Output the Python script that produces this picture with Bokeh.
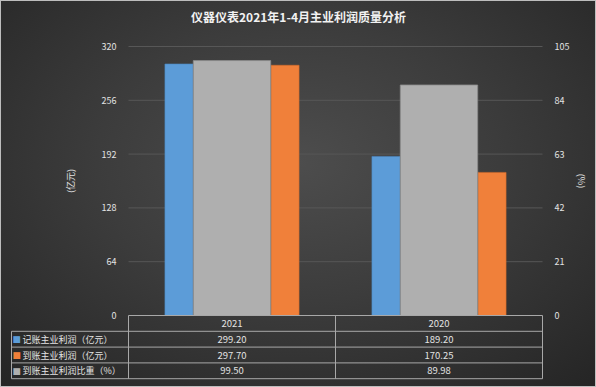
import numpy as np
from bokeh.plotting import figure
from bokeh.models import Range1d, LinearAxis, FixedTicker
from bokeh.embed import file_html
from bokeh.resources import INLINE
from bokeh.core.properties import value

# ---------------- data ----------------
title_text = "仪器仪表2021年1-4月主业利润质量分析"
years = ["2021", "2020"]
booked_profit = [299.20, 189.20]      # 记账主业利润（亿元）
received_profit = [297.70, 170.25]    # 到账主业利润（亿元）
received_ratio = [99.50, 89.98]       # 到账主业利润比重（%）
series_names = ["记账主业利润（亿元）", "到账主业利润（亿元）", "到账主业利润比重（%）"]
left_ticks = [0, 64, 128, 192, 256, 320]
right_ticks = [0, 21, 42, 63, 84, 105]
left_label = "(亿元)"
right_label = "(%)"

# ---------------- layout (pixels) ----------------
W, H = 596, 387
PL, PR, PT, PB = 128, 542, 46, 315     # plot area
ROW = 15.8                              # table row height
LEG_L = 11                              # table legend column left edge
n = len(years)
cat_px = (PR - PL) / n
upp = left_ticks[-1] / (PB - PT)        # left-axis units per pixel
upp2 = right_ticks[-1] / (PB - PT)      # right-axis units per pixel


def dx(px):
    return (px - PL) / cat_px


def dy(px):
    return (PB - px) * upp


CJK = "Noto Sans CJK SC"
BLUE, ORANGE, GRAY = "#5c9cd8", "#f0803a", "#afafaf"
TXT = "#e3e3e3"
LINE = "#a8a8a8"

p = figure(width=W, height=H, title=None,
           x_range=Range1d(dx(0), dx(W)), y_range=Range1d(dy(H), dy(0)),
           output_backend="svg", toolbar_location=None,
           min_border=0, x_axis_location=None)
p.extra_y_ranges = {"pct": Range1d((PB - H) * upp2, PB * upp2)}
p.background_fill_alpha = 0
p.border_fill_alpha = 0
p.outline_line_color = None
p.grid.visible = False
p.styles = {
    "background": "radial-gradient(ellipse 75% 80% at 50% 42%, #4d4d4d 0%, #3c3c3c 45%, #242424 100%)",
    "box-shadow": "inset 0 0 0 1px #bdbdbd",
}

# title
p.text(x=[dx(W / 2)], y=[dy(16)], text=[title_text], text_align="center",
       text_baseline="middle", text_font=value(CJK), text_font_size="12px",
       text_font_style="bold", text_color="#f2f2f2")

# grid lines
gy = left_ticks[1:]
p.segment(x0=[0] * len(gy), y0=gy, x1=[n] * len(gy), y1=gy,
          line_color="#575757", line_width=1)


def style_axis(a, standoff, label, label_standoff):
    a.axis_line_color = None
    a.major_tick_line_color = None
    a.minor_tick_line_color = None
    a.major_label_text_color = TXT
    a.major_label_text_font_size = "9px"
    a.major_label_text_font = CJK
    a.major_label_standoff = standoff
    a.axis_label = label
    a.axis_label_text_color = TXT
    a.axis_label_text_font_size = "9px"
    a.axis_label_text_font = CJK
    a.axis_label_text_font_style = "normal"
    a.axis_label_standoff = label_standoff


ax = p.yaxis[0]
ax.ticker = FixedTicker(ticks=left_ticks)
ax.fixed_location = 0
ax.bounds = (left_ticks[0], left_ticks[-1])
style_axis(ax, 6, left_label, 22)

ax2 = LinearAxis(y_range_name="pct", ticker=FixedTicker(ticks=right_ticks),
                 fixed_location=n, bounds=(right_ticks[0], right_ticks[-1]))
style_axis(ax2, 6, right_label, 3)
p.add_layout(ax2, "right")

# bars
cx = np.arange(n) + 0.5
off, bw, gw = 0.256, 0.136, 0.374
p.vbar(x=cx - off, top=booked_profit, bottom=0, width=bw,
       fill_color=BLUE, line_color="#4a86c0", line_width=0.6)
p.vbar(x=cx + off, top=received_profit, bottom=0, width=bw,
       fill_color=ORANGE, line_color="#d46a28", line_width=0.6)
p.vbar(x=cx, top=received_ratio, bottom=0, width=gw, y_range_name="pct",
       fill_color=GRAY, line_color="#8a8a8a", line_width=0.8)

# ---------------- data table ----------------
rh = ROW * upp
nrows = 4
leg_left = dx(LEG_L)
hx0 = [0] + [leg_left] * nrows
hy = [0] + [-(r + 1) * rh for r in range(nrows)]
p.segment(x0=hx0, y0=hy, x1=[n] * len(hy), y1=hy, line_color=LINE, line_width=1)
vx = [leg_left] + list(range(n + 1))
vy0 = [-rh] + [0] * (n + 1)
p.segment(x0=vx, y0=vy0, x1=vx, y1=[-nrows * rh] * len(vx), line_color=LINE, line_width=1)

values = [booked_profit, received_profit, received_ratio]
tx, ty, tt = [], [], []
for i in range(n):
    tx.append(cx[i]); ty.append(-0.5 * rh); tt.append(years[i])
for r, vals in enumerate(values, start=1):
    for i in range(n):
        tx.append(cx[i]); ty.append(-(r + 0.5) * rh); tt.append(f"{vals[i]:.2f}")
p.text(x=tx, y=ty, text=tt, text_align="center", text_baseline="middle",
       text_font=value(CJK), text_font_size="9.5px", text_color=TXT)

ly = [-(r + 0.5) * rh for r in range(1, 4)]
p.text(x=[dx(12)] * 3, y=ly, text=["■"] * 3, text_color=[BLUE, ORANGE, GRAY],
       text_align="left", text_baseline="middle",
       text_font=value(CJK), text_font_size="8.5px")
p.text(x=[dx(22)] * 3, y=ly, text=series_names,
       text_align="left", text_baseline="middle",
       text_font=value(CJK), text_font_size="9px", text_color=TXT)

open("out.html", "w").write(file_html(p, INLINE))
